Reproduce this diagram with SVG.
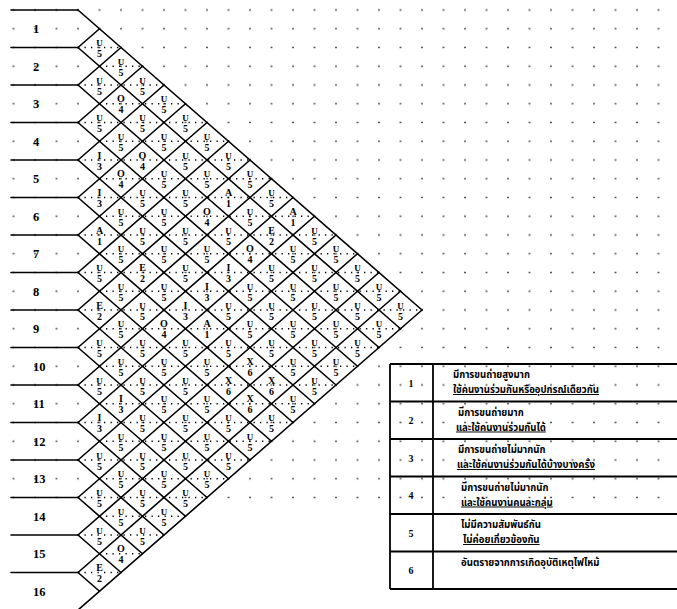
<svg xmlns="http://www.w3.org/2000/svg" width="677" height="609" viewBox="0 0 677 609">
<defs>
<pattern id="dots" patternUnits="userSpaceOnUse" x="2.75" y="0.625" width="21.5" height="18.75">
<rect x="10" y="8.6" width="1.5" height="1.5" fill="#222"/>
</pattern>
<style>
.ln{stroke:#000;stroke-width:1.6;fill:none;stroke-linecap:round}
.dt{stroke:#000;stroke-width:1.3;stroke-dasharray:1.3 5.2;fill:none}
.lbl{font-family:"Liberation Serif","Times New Roman",serif;font-size:12.5px;font-weight:bold;fill:#000}
.c text{font-family:"Liberation Serif","Times New Roman",serif;font-size:10px;font-weight:bold;text-anchor:middle;fill:#000}
.c text.u{font-size:9px}
.tb{stroke:#000;stroke-width:1.8;fill:none}
.num{font-family:"Liberation Serif",serif;font-size:10px;font-weight:bold;text-anchor:middle}
.th{font-family:"Noto Sans Thai","Noto Sans","DejaVu Sans",sans-serif;font-size:9.6px;font-weight:bold;fill:#000}
.ul{text-decoration:underline}
</style>
</defs>
<rect width="677" height="609" fill="#fff"/>
<rect x="0" y="0" width="677" height="500" fill="url(#dots)"/>

<g id="connectors">
<g class="ln">
<path d="M11 10H78M11 47.5H78M11 85H78M11 122.5H78M11 160H78M11 197.5H78M11 235H78M11 272.5H78M11 310H78M11 347.5H78M11 385H78M11 422.5H78M11 460H78M11 497.5H78M11 535H78M11 572.5H78"/>
<path d="M78 10L422 310M78 47.5L400.5 328.75M78 85L379 347.5M78 122.5L357.5 366.25M78 160L336 385M78 197.5L314.5 403.75M78 235L293 422.5M78 272.5L271.5 441.25M78 310L250 460M78 347.5L228.5 478.75M78 385L207 497.5M78 422.5L185.5 516.25M78 460L164 535M78 497.5L142.5 553.75M78 535L121 572.5M78 572.5L99.5 591.25"/>
<path d="M78 47.5L99.5 28.75M78 85L121 47.5M78 122.5L142.5 66.25M78 160L164 85M78 197.5L185.5 103.75M78 235L207 122.5M78 272.5L228.5 141.25M78 310L250 160M78 347.5L271.5 178.75M78 385L293 197.5M78 422.5L314.5 216.25M78 460L336 235M78 497.5L357.5 253.75M78 535L379 272.5M78 572.5L400.5 291.25M78 610L422 310"/>
</g>
<path class="dt" d="M78 47.5H121M99.5 66.25H142.5M78 85H164M99.5 103.75H185.5M78 122.5H207M99.5 141.25H228.5M78 160H250M99.5 178.75H271.5M78 197.5H293M99.5 216.25H314.5M78 235H336M99.5 253.75H357.5M78 272.5H379M99.5 291.25H400.5M78 310H422M99.5 328.75H400.5M78 347.5H379M99.5 366.25H357.5M78 385H336M99.5 403.75H314.5M78 422.5H293M99.5 441.25H271.5M78 460H250M99.5 478.75H228.5M78 497.5H207M99.5 516.25H185.5M78 535H164M99.5 553.75H142.5M78 572.5H121"/>
</g>

<g id="rows" class="lbl">
<text id="row1" x="33" y="33">1</text>
<text id="row2" x="33" y="70.5">2</text>
<text id="row3" x="33" y="108">3</text>
<text id="row4" x="33" y="145.5">4</text>
<text id="row5" x="33" y="183">5</text>
<text id="row6" x="33" y="220.5">6</text>
<text id="row7" x="33" y="258">7</text>
<text id="row8" x="33" y="295.5">8</text>
<text id="row9" x="33" y="333">9</text>
<text id="row10" x="33" y="370.5">10</text>
<text id="row11" x="33" y="408">11</text>
<text id="row12" x="33" y="445.5">12</text>
<text id="row13" x="33" y="483">13</text>
<text id="row14" x="33" y="520.5">14</text>
<text id="row15" x="33" y="558">15</text>
<text id="row16" x="33" y="595.5">16</text>
</g>

<g id="cells" class="c">
<g id="c1-2" transform="translate(99.5 47.5)"><text class="u" y="-1.5">U</text><text y="9.5">5</text></g>
<g id="c1-3" transform="translate(121 66.25)"><text class="u" y="-1.5">U</text><text y="9.5">5</text></g>
<g id="c1-4" transform="translate(142.5 85)"><text class="u" y="-1.5">U</text><text y="9.5">5</text></g>
<g id="c1-5" transform="translate(164 103.75)"><text class="u" y="-1.5">U</text><text y="9.5">5</text></g>
<g id="c1-6" transform="translate(185.5 122.5)"><text class="u" y="-1.5">U</text><text y="9.5">5</text></g>
<g id="c1-7" transform="translate(207 141.25)"><text class="u" y="-1.5">U</text><text y="9.5">5</text></g>
<g id="c1-8" transform="translate(228.5 160)"><text class="u" y="-1.5">U</text><text y="9.5">5</text></g>
<g id="c1-9" transform="translate(250 178.75)"><text class="u" y="-1.5">U</text><text y="9.5">5</text></g>
<g id="c1-10" transform="translate(271.5 197.5)"><text class="u" y="-1.5">U</text><text y="9.5">5</text></g>
<g id="c1-11" transform="translate(293 216.25)"><text y="-1.5">A</text><text y="9.5">1</text></g>
<g id="c1-12" transform="translate(314.5 235)"><text class="u" y="-1.5">U</text><text y="9.5">5</text></g>
<g id="c1-13" transform="translate(336 253.75)"><text class="u" y="-1.5">U</text><text y="9.5">5</text></g>
<g id="c1-14" transform="translate(357.5 272.5)"><text class="u" y="-1.5">U</text><text y="9.5">5</text></g>
<g id="c1-15" transform="translate(379 291.25)"><text class="u" y="-1.5">U</text><text y="9.5">5</text></g>
<g id="c1-16" transform="translate(400.5 310)"><text class="u" y="-1.5">U</text><text y="9.5">5</text></g>
<g id="c2-3" transform="translate(99.5 85)"><text class="u" y="-1.5">U</text><text y="9.5">5</text></g>
<g id="c2-4" transform="translate(121 103.75)"><text y="-1.5">O</text><text y="9.5">4</text></g>
<g id="c2-5" transform="translate(142.5 122.5)"><text class="u" y="-1.5">U</text><text y="9.5">5</text></g>
<g id="c2-6" transform="translate(164 141.25)"><text class="u" y="-1.5">U</text><text y="9.5">5</text></g>
<g id="c2-7" transform="translate(185.5 160)"><text class="u" y="-1.5">U</text><text y="9.5">5</text></g>
<g id="c2-8" transform="translate(207 178.75)"><text class="u" y="-1.5">U</text><text y="9.5">5</text></g>
<g id="c2-9" transform="translate(228.5 197.5)"><text y="-1.5">A</text><text y="9.5">1</text></g>
<g id="c2-10" transform="translate(250 216.25)"><text class="u" y="-1.5">U</text><text y="9.5">5</text></g>
<g id="c2-11" transform="translate(271.5 235)"><text y="-1.5">E</text><text y="9.5">2</text></g>
<g id="c2-12" transform="translate(293 253.75)"><text class="u" y="-1.5">U</text><text y="9.5">5</text></g>
<g id="c2-13" transform="translate(314.5 272.5)"><text class="u" y="-1.5">U</text><text y="9.5">5</text></g>
<g id="c2-14" transform="translate(336 291.25)"><text class="u" y="-1.5">U</text><text y="9.5">5</text></g>
<g id="c2-15" transform="translate(357.5 310)"><text class="u" y="-1.5">U</text><text y="9.5">5</text></g>
<g id="c2-16" transform="translate(379 328.75)"><text class="u" y="-1.5">U</text><text y="9.5">5</text></g>
<g id="c3-4" transform="translate(99.5 122.5)"><text class="u" y="-1.5">U</text><text y="9.5">5</text></g>
<g id="c3-5" transform="translate(121 141.25)"><text class="u" y="-1.5">U</text><text y="9.5">5</text></g>
<g id="c3-6" transform="translate(142.5 160)"><text y="-1.5">O</text><text y="9.5">4</text></g>
<g id="c3-7" transform="translate(164 178.75)"><text class="u" y="-1.5">U</text><text y="9.5">5</text></g>
<g id="c3-8" transform="translate(185.5 197.5)"><text class="u" y="-1.5">U</text><text y="9.5">5</text></g>
<g id="c3-9" transform="translate(207 216.25)"><text y="-1.5">O</text><text y="9.5">4</text></g>
<g id="c3-10" transform="translate(228.5 235)"><text class="u" y="-1.5">U</text><text y="9.5">5</text></g>
<g id="c3-11" transform="translate(250 253.75)"><text y="-1.5">O</text><text y="9.5">4</text></g>
<g id="c3-12" transform="translate(271.5 272.5)"><text class="u" y="-1.5">U</text><text y="9.5">5</text></g>
<g id="c3-13" transform="translate(293 291.25)"><text class="u" y="-1.5">U</text><text y="9.5">5</text></g>
<g id="c3-14" transform="translate(314.5 310)"><text class="u" y="-1.5">U</text><text y="9.5">5</text></g>
<g id="c3-15" transform="translate(336 328.75)"><text class="u" y="-1.5">U</text><text y="9.5">5</text></g>
<g id="c3-16" transform="translate(357.5 347.5)"><text class="u" y="-1.5">U</text><text y="9.5">5</text></g>
<g id="c4-5" transform="translate(99.5 160)"><text y="-1.5">I</text><text y="9.5">3</text></g>
<g id="c4-6" transform="translate(121 178.75)"><text y="-1.5">O</text><text y="9.5">4</text></g>
<g id="c4-7" transform="translate(142.5 197.5)"><text class="u" y="-1.5">U</text><text y="9.5">5</text></g>
<g id="c4-8" transform="translate(164 216.25)"><text class="u" y="-1.5">U</text><text y="9.5">5</text></g>
<g id="c4-9" transform="translate(185.5 235)"><text class="u" y="-1.5">U</text><text y="9.5">5</text></g>
<g id="c4-10" transform="translate(207 253.75)"><text class="u" y="-1.5">U</text><text y="9.5">5</text></g>
<g id="c4-11" transform="translate(228.5 272.5)"><text y="-1.5">I</text><text y="9.5">3</text></g>
<g id="c4-12" transform="translate(250 291.25)"><text class="u" y="-1.5">U</text><text y="9.5">5</text></g>
<g id="c4-13" transform="translate(271.5 310)"><text class="u" y="-1.5">U</text><text y="9.5">5</text></g>
<g id="c4-14" transform="translate(293 328.75)"><text class="u" y="-1.5">U</text><text y="9.5">5</text></g>
<g id="c4-15" transform="translate(314.5 347.5)"><text class="u" y="-1.5">U</text><text y="9.5">5</text></g>
<g id="c4-16" transform="translate(336 366.25)"><text class="u" y="-1.5">U</text><text y="9.5">5</text></g>
<g id="c5-6" transform="translate(99.5 197.5)"><text y="-1.5">I</text><text y="9.5">3</text></g>
<g id="c5-7" transform="translate(121 216.25)"><text class="u" y="-1.5">U</text><text y="9.5">5</text></g>
<g id="c5-8" transform="translate(142.5 235)"><text class="u" y="-1.5">U</text><text y="9.5">5</text></g>
<g id="c5-9" transform="translate(164 253.75)"><text class="u" y="-1.5">U</text><text y="9.5">5</text></g>
<g id="c5-10" transform="translate(185.5 272.5)"><text class="u" y="-1.5">U</text><text y="9.5">5</text></g>
<g id="c5-11" transform="translate(207 291.25)"><text y="-1.5">I</text><text y="9.5">3</text></g>
<g id="c5-12" transform="translate(228.5 310)"><text class="u" y="-1.5">U</text><text y="9.5">5</text></g>
<g id="c5-13" transform="translate(250 328.75)"><text class="u" y="-1.5">U</text><text y="9.5">5</text></g>
<g id="c5-14" transform="translate(271.5 347.5)"><text class="u" y="-1.5">U</text><text y="9.5">5</text></g>
<g id="c5-15" transform="translate(293 366.25)"><text class="u" y="-1.5">U</text><text y="9.5">5</text></g>
<g id="c5-16" transform="translate(314.5 385)"><text class="u" y="-1.5">U</text><text y="9.5">5</text></g>
<g id="c6-7" transform="translate(99.5 235)"><text y="-1.5">A</text><text y="9.5">1</text></g>
<g id="c6-8" transform="translate(121 253.75)"><text class="u" y="-1.5">U</text><text y="9.5">5</text></g>
<g id="c6-9" transform="translate(142.5 272.5)"><text y="-1.5">E</text><text y="9.5">2</text></g>
<g id="c6-10" transform="translate(164 291.25)"><text class="u" y="-1.5">U</text><text y="9.5">5</text></g>
<g id="c6-11" transform="translate(185.5 310)"><text y="-1.5">I</text><text y="9.5">3</text></g>
<g id="c6-12" transform="translate(207 328.75)"><text y="-1.5">A</text><text y="9.5">1</text></g>
<g id="c6-13" transform="translate(228.5 347.5)"><text class="u" y="-1.5">U</text><text y="9.5">5</text></g>
<g id="c6-14" transform="translate(250 366.25)"><text y="-1.5">X</text><text y="9.5">6</text></g>
<g id="c6-15" transform="translate(271.5 385)"><text y="-1.5">X</text><text y="9.5">6</text></g>
<g id="c6-16" transform="translate(293 403.75)"><text class="u" y="-1.5">U</text><text y="9.5">5</text></g>
<g id="c7-8" transform="translate(99.5 272.5)"><text class="u" y="-1.5">U</text><text y="9.5">5</text></g>
<g id="c7-9" transform="translate(121 291.25)"><text class="u" y="-1.5">U</text><text y="9.5">5</text></g>
<g id="c7-10" transform="translate(142.5 310)"><text class="u" y="-1.5">U</text><text y="9.5">5</text></g>
<g id="c7-11" transform="translate(164 328.75)"><text y="-1.5">O</text><text y="9.5">4</text></g>
<g id="c7-12" transform="translate(185.5 347.5)"><text class="u" y="-1.5">U</text><text y="9.5">5</text></g>
<g id="c7-13" transform="translate(207 366.25)"><text class="u" y="-1.5">U</text><text y="9.5">5</text></g>
<g id="c7-14" transform="translate(228.5 385)"><text y="-1.5">X</text><text y="9.5">6</text></g>
<g id="c7-15" transform="translate(250 403.75)"><text y="-1.5">X</text><text y="9.5">6</text></g>
<g id="c7-16" transform="translate(271.5 422.5)"><text class="u" y="-1.5">U</text><text y="9.5">5</text></g>
<g id="c8-9" transform="translate(99.5 310)"><text y="-1.5">E</text><text y="9.5">2</text></g>
<g id="c8-10" transform="translate(121 328.75)"><text class="u" y="-1.5">U</text><text y="9.5">5</text></g>
<g id="c8-11" transform="translate(142.5 347.5)"><text class="u" y="-1.5">U</text><text y="9.5">5</text></g>
<g id="c8-12" transform="translate(164 366.25)"><text class="u" y="-1.5">U</text><text y="9.5">5</text></g>
<g id="c8-13" transform="translate(185.5 385)"><text class="u" y="-1.5">U</text><text y="9.5">5</text></g>
<g id="c8-14" transform="translate(207 403.75)"><text class="u" y="-1.5">U</text><text y="9.5">5</text></g>
<g id="c8-15" transform="translate(228.5 422.5)"><text class="u" y="-1.5">U</text><text y="9.5">5</text></g>
<g id="c8-16" transform="translate(250 441.25)"><text class="u" y="-1.5">U</text><text y="9.5">5</text></g>
<g id="c9-10" transform="translate(99.5 347.5)"><text class="u" y="-1.5">U</text><text y="9.5">5</text></g>
<g id="c9-11" transform="translate(121 366.25)"><text class="u" y="-1.5">U</text><text y="9.5">5</text></g>
<g id="c9-12" transform="translate(142.5 385)"><text class="u" y="-1.5">U</text><text y="9.5">5</text></g>
<g id="c9-13" transform="translate(164 403.75)"><text class="u" y="-1.5">U</text><text y="9.5">5</text></g>
<g id="c9-14" transform="translate(185.5 422.5)"><text class="u" y="-1.5">U</text><text y="9.5">5</text></g>
<g id="c9-15" transform="translate(207 441.25)"><text class="u" y="-1.5">U</text><text y="9.5">5</text></g>
<g id="c9-16" transform="translate(228.5 460)"><text class="u" y="-1.5">U</text><text y="9.5">5</text></g>
<g id="c10-11" transform="translate(99.5 385)"><text class="u" y="-1.5">U</text><text y="9.5">5</text></g>
<g id="c10-12" transform="translate(121 403.75)"><text y="-1.5">I</text><text y="9.5">3</text></g>
<g id="c10-13" transform="translate(142.5 422.5)"><text class="u" y="-1.5">U</text><text y="9.5">5</text></g>
<g id="c10-14" transform="translate(164 441.25)"><text class="u" y="-1.5">U</text><text y="9.5">5</text></g>
<g id="c10-15" transform="translate(185.5 460)"><text class="u" y="-1.5">U</text><text y="9.5">5</text></g>
<g id="c10-16" transform="translate(207 478.75)"><text class="u" y="-1.5">U</text><text y="9.5">5</text></g>
<g id="c11-12" transform="translate(99.5 422.5)"><text y="-1.5">I</text><text y="9.5">3</text></g>
<g id="c11-13" transform="translate(121 441.25)"><text class="u" y="-1.5">U</text><text y="9.5">5</text></g>
<g id="c11-14" transform="translate(142.5 460)"><text class="u" y="-1.5">U</text><text y="9.5">5</text></g>
<g id="c11-15" transform="translate(164 478.75)"><text class="u" y="-1.5">U</text><text y="9.5">5</text></g>
<g id="c11-16" transform="translate(185.5 497.5)"><text class="u" y="-1.5">U</text><text y="9.5">5</text></g>
<g id="c12-13" transform="translate(99.5 460)"><text class="u" y="-1.5">U</text><text y="9.5">5</text></g>
<g id="c12-14" transform="translate(121 478.75)"><text class="u" y="-1.5">U</text><text y="9.5">5</text></g>
<g id="c12-15" transform="translate(142.5 497.5)"><text class="u" y="-1.5">U</text><text y="9.5">5</text></g>
<g id="c12-16" transform="translate(164 516.25)"><text class="u" y="-1.5">U</text><text y="9.5">5</text></g>
<g id="c13-14" transform="translate(99.5 497.5)"><text class="u" y="-1.5">U</text><text y="9.5">5</text></g>
<g id="c13-15" transform="translate(121 516.25)"><text class="u" y="-1.5">U</text><text y="9.5">5</text></g>
<g id="c13-16" transform="translate(142.5 535)"><text class="u" y="-1.5">U</text><text y="9.5">5</text></g>
<g id="c14-15" transform="translate(99.5 535)"><text class="u" y="-1.5">U</text><text y="9.5">5</text></g>
<g id="c14-16" transform="translate(121 553.75)"><text y="-1.5">O</text><text y="9.5">4</text></g>
<g id="c15-16" transform="translate(99.5 572.5)"><text y="-1.5">E</text><text y="9.5">2</text></g>
</g>

<g id="legend">
<path class="tb" d="M390 364V589M433 364V589M390 364H677M390 401.5H677M390 439H677M390 476.5H677M390 514H677M390 551.5H677M390 589H677"/>
<g class="num">
<text x="411" y="386.5">1</text>
<text x="411" y="424">2</text>
<text x="411" y="461.5">3</text>
<text x="411" y="499">4</text>
<text x="411" y="536.5">5</text>
<text x="411" y="574">6</text>
</g>
<g class="th">
<text x="453" y="378">มีการขนถ่ายสูงมาก</text>
<text class="ul" x="453" y="393">ใช้คนงานร่วมกันหรืออุปกรณ์เดียวกัน</text>
<text x="458" y="415.5">มีการขนถ่ายมาก</text>
<text class="ul" x="456" y="430.5">และใช้คนงานร่วมกันได้</text>
<text x="458" y="453">มีการขนถ่ายไม่มากนัก</text>
<text class="ul" x="457" y="468">และใช้คนงานร่วมกันได้บ้างบางครั้ง</text>
<text x="461" y="490.5">มีการขนถ่ายไม่มากนัก</text>
<text class="ul" x="461" y="505.5">และใช้คนงานคนละกลุ่ม</text>
<text x="461" y="528">ไม่มีความสัมพันธ์กัน</text>
<text class="ul" x="463" y="543">ไม่ค่อยเกี่ยวข้องกัน</text>
<text x="461" y="566">อันตรายจากการเกิดอุบัติเหตุไฟไหม้</text>
</g>
</g>
</svg>
